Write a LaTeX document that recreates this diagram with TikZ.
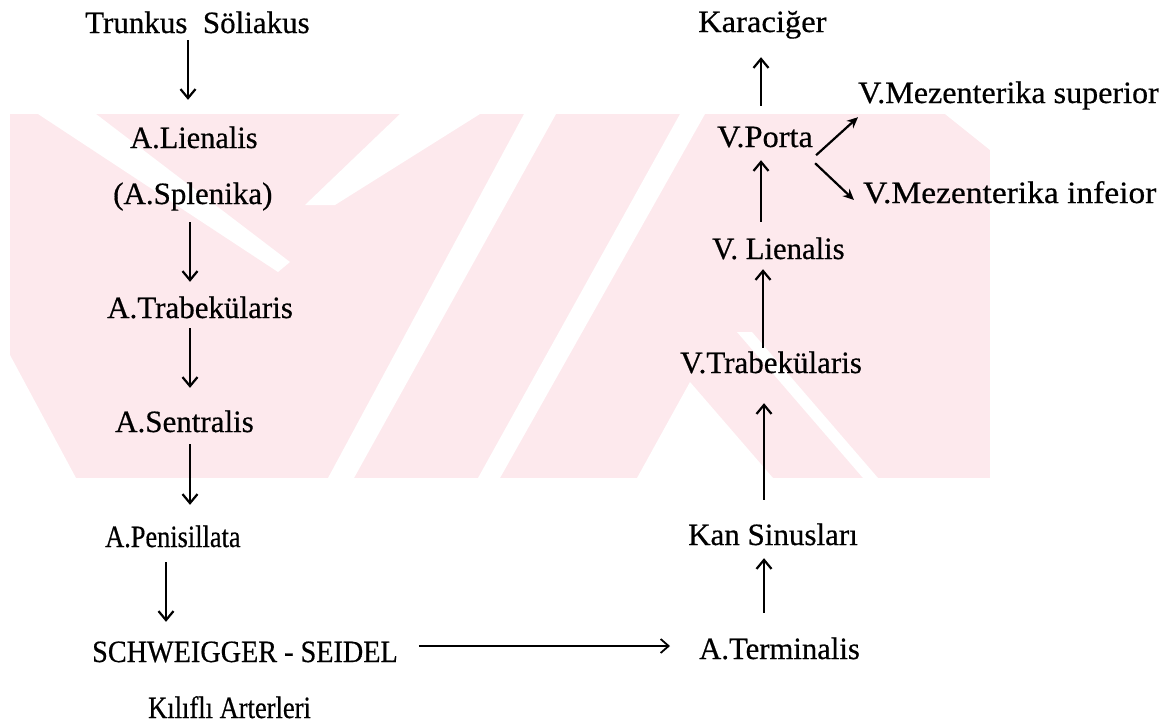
\documentclass[tikz,border=0pt]{standalone}
\usepackage{fontspec}
\setmainfont{Liberation Serif}
\newfontfamily\tfont[FakeBold=0.5]{Liberation Serif}
\usetikzlibrary{arrows.meta,calc}
\definecolor{wm}{RGB}{253,233,237}
\newcommand\hsq[2]{\scalebox{#1}[1]{#2}}
\begin{document}
\begin{tikzpicture}[x=1pt,y=-1pt,
  lbl/.style={anchor=base west, inner sep=0pt, text height=22pt, text depth=7pt, font=\tfont\fontsize{31}{36}\selectfont},
  arr/.style={line width=2.2pt, -{Straight Barb[length=9pt,width=15pt]}},
  harr/.style={line width=1.8pt, -{Straight Barb[length=8pt,width=14pt]}},
  darr/.style={line width=2.2pt, -{Stealth[length=11pt,width=10pt]}}]
\useasboundingbox[fill=white] (0,0) rectangle (1173,726);
% watermark
\begin{scope}
\clip (10,114) rectangle (990,478);
\fill[wm] (10,114) rectangle (990,478);
\fill[white] (38,114) -- (96,114) -- (290,262) -- (278,272) -- cycle;
\fill[white] (400,114) -- (480,114) -- (335,205) -- (305,205) -- cycle;
\fill[white] (10,355) -- (10,478) -- (76,478) -- cycle;
\fill[white] (524,114) -- (556,114) -- (354,478) -- (328,478) -- cycle;
\fill[white] (680,114) -- (705,114) -- (500,478) -- (478,478) -- cycle;
\fill[white] (690,382) -- (773,478) -- (637,478) -- cycle;
\fill[white] (737,332) -- (752,332) -- (878,478) -- (863,478) -- cycle;
\fill[white] (945,114) -- (990,114) -- (990,150) -- cycle;
\end{scope}
% coordinates for columns
\coordinate (c1) at (188,0);
\coordinate (c2) at (190,0);
\coordinate (c5) at (166,0);
\coordinate (c7) at (764,0);
\coordinate (c9) at (763,0);
\coordinate (c10) at (761,0);
\coordinate (hy) at (0,646);
% nodes
\node[lbl] (trunk) at (85,33) {Trunkus\ \ Söliakus};
\node[lbl] (lien) at (130,148) {\hsq{0.98}{A.Lienalis}};
\node[lbl] (splen) at (113,204) {(A.Splenika)};
\node[lbl] (ltrab) at (107,318) {A.Trabekülaris};
\node[lbl] (sent) at (115,432) {A.Sentralis};
\node[lbl] (penis) at (105,547) {\hsq{0.85}{A.Penisillata}};
\node[lbl] (schw) at (92,662) {\hsq{0.91}{SCHWEIGGER - SEIDEL}};
\node[lbl] (kili) at (148,718) {\hsq{0.855}{Kılıflı Arterleri}};
\node[lbl] (kara) at (698,32) {\hsq{1.05}{Karaciğer}};
\node[lbl] (sup) at (858,103) {\hsq{1.035}{V.Mezenterika superior}};
\node[lbl] (porta) at (717,147) {\hsq{1.045}{V.Porta}};
\node[lbl] (inf) at (863,203) {\hsq{1.08}{V.Mezenterika infeior}};
\node[lbl] (vlien) at (712,259) {\hsq{0.99}{V. Lienalis}};
\node[lbl] (vtrab) at (680,373) {V.Trabekülaris};
\node[lbl] (kan) at (688,545) {Kan Sinusları};
\node[lbl] (term) at (699,659) {\hsq{0.99}{A.Terminalis}};
% connectors
\draw[arr, shorten >=26pt] (trunk.south -| c1) -- (lien.north -| c1);
\draw[arr, shorten <=11pt, shorten >=14pt] (splen.south -| c2) -- (ltrab.north -| c2);
\draw[arr, shorten <=3pt, shorten >=22pt] (ltrab.south -| c2) -- (sent.north -| c2);
\draw[arr, shorten <=5pt, shorten >=20pt] (sent.south -| c2) -- (penis.north -| c2);
\draw[arr, shorten <=8pt, shorten >=18pt] (penis.south -| c5) -- (schw.north -| c5);
\draw[harr, shorten <=21pt, shorten >=29pt] (schw.east |- hy) -- (term.west |- hy);
\draw[arr, shorten <=24pt, shorten >=6pt] (term.north -| c7) -- (kan.south -| c7);
\draw[arr, shorten <=23pt, shorten >=23pt] (kan.north -| c7) -- (vtrab.south -| c7);
\draw[arr, shorten <=3pt, shorten >=3pt] (vtrab.north -| c9) -- (vlien.south -| c9);
\draw[arr, shorten <=15pt, shorten >=6pt] (vlien.north -| c10) -- (porta.south -| c10);
\draw[arr, shorten <=19pt, shorten >=18pt] (porta.north -| c10) -- (kara.south -| c10);
\draw[darr] ([shift={(3,1)}]porta.south east) -- ([shift={(0,7)}]sup.south west);
\draw[darr] ([shift={(2,9)}]porta.south east) -- ([shift={(-9,4.5)}]inf.west);
\end{tikzpicture}
\end{document}
